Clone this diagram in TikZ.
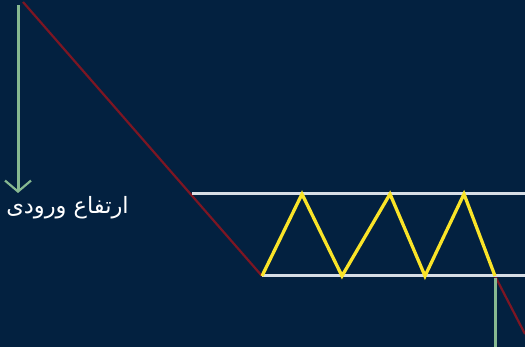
\documentclass[tikz,border=0pt]{standalone}
\usepackage{fontspec}
\newfontfamily\arabicfont[Script=Arabic]{DejaVu Sans}
\TeXXeTstate=1
\usetikzlibrary{arrows.meta}
\definecolor{bg}{RGB}{3,33,64}
\definecolor{redl}{RGB}{125,22,35}
\definecolor{greenl}{RGB}{135,185,145}
\definecolor{yell}{RGB}{250,228,40}
\definecolor{whitel}{RGB}{215,222,230}
\tikzset{
  redline/.style={draw=redl,line width=2.2pt},
  whiteline/.style={draw=whitel,line width=3pt},
  yelline/.style={draw=yell,line width=3.3pt,line join=miter},
  greenline/.style={draw=greenl,line width=3pt},
  label/.style={text=white,font=\arabicfont\fontsize{22.5}{26}\selectfont,inner sep=0pt}
}
\begin{document}
\begin{tikzpicture}[x=1pt,y=-1pt]
\fill[bg] (0,0) rectangle (525,347);
\useasboundingbox (0,0) rectangle (525,347);
\coordinate (r0) at (23,2);
\coordinate (ws) at (192,194);
\coordinate (we) at (525,194);
\coordinate (bs) at (262,276);
\coordinate (be) at (525,276);
\coordinate (p1) at (302,194);
\coordinate (v1) at (342,276);
\coordinate (p2) at (390,194);
\coordinate (v2) at (425,276);
\coordinate (p3) at (464,194);
\coordinate (v3) at (495,276);
\coordinate (r1) at (525,334);
\coordinate (g0) at (18,5);
\coordinate (g1) at (18,193);
\coordinate (g2) at (495,278);
\coordinate (g3) at (495,347);
\draw[redline] (r0) -- (bs);
\draw[redline] (v3) -- (r1);
\draw[whiteline] (ws) -- (we);
\draw[whiteline] (bs) -- (be);
\draw[yelline] (bs) -- (p1) -- (v1) -- (p2) -- (v2) -- (p3) -- (v3);
\draw[greenline,-{Straight Barb[length=11pt,width=26pt,line width=2.2pt]}] (g0) -- (g1);
\draw[greenline] (g2) -- (g3);
\node[label,anchor=center] (t) at (67.5,208) {\beginR ارتفاع ورودی\endR};
\end{tikzpicture}
\end{document}
